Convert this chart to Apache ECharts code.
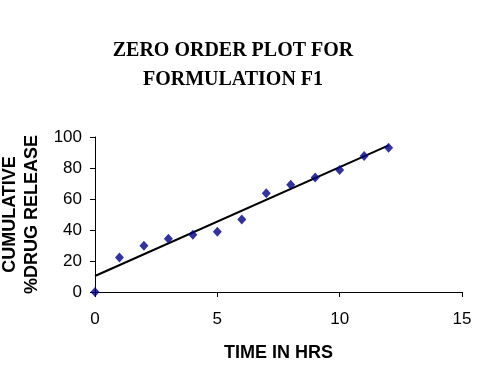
<!DOCTYPE html>
<html>
<head>
<meta charset="utf-8">
<script src="https://cdn.jsdelivr.net/npm/echarts@6/dist/echarts.min.js"></script>
<style>html,body{margin:0;padding:0;background:#fff;}#c{width:485px;height:366px;}</style>
</head>
<body>
<div id="c"></div>
<script>
const timeHrs = [0, 1, 2, 3, 4, 5, 6, 7, 8, 9, 10, 11, 12];
const drugRelease = [0, 22.2, 29.9, 34.4, 37.0, 38.9, 46.7, 63.7, 69.2, 73.8, 78.7, 87.7, 93.1];
const trendX = [0, 12];
const trendY = [10.3, 94.6];
const xTicks = [0, 5, 10, 15];
const yTicks = [0, 20, 40, 60, 80, 100];

const chart = echarts.init(document.getElementById('c'), null, {renderer: 'canvas'});
chart.setOption({
  animation: false,
  backgroundColor: '#ffffff',
  title: {
    text: 'ZERO ORDER PLOT FOR\nFORMULATION F1',
    left: 233, top: 36, padding: 0,
    textAlign: 'center',
    textStyle: {fontFamily: 'Liberation Serif', fontWeight: 'bold', fontSize: 20, lineHeight: 29, color: '#000'}
  },
  grid: {left: 95, right: 23, top: 137, bottom: 74, containLabel: false, outerBoundsMode: 'none'},
  xAxis: {
    type: 'value', min: xTicks[0], max: xTicks[xTicks.length - 1], interval: 5,
    name: 'TIME IN HRS', nameLocation: 'middle', nameGap: 52,
    nameTextStyle: {fontFamily: 'Liberation Sans', fontWeight: 'bold', fontSize: 18, color: '#000'},
    axisLine: {show: true, onZero: false, lineStyle: {color: '#000', width: 1}},
    axisTick: {show: true, inside: false, length: 5, lineStyle: {color: '#000'}},
    axisLabel: {fontFamily: 'Liberation Sans', fontSize: 17, color: '#000', margin: 19},
    splitLine: {show: false}
  },
  yAxis: {
    type: 'value', min: yTicks[0], max: yTicks[yTicks.length - 1], interval: 20,
    name: 'CUMULATIVE\n%DRUG RELEASE', nameLocation: 'middle', nameRotate: 90, nameGap: 52,
    nameTextStyle: {fontFamily: 'Liberation Sans', fontWeight: 'bold', fontSize: 18, lineHeight: 22, color: '#000', align: 'center'},
    axisLine: {show: true, onZero: false, lineStyle: {color: '#000', width: 1}},
    axisTick: {show: true, inside: false, length: 5, lineStyle: {color: '#000'}},
    axisLabel: {fontFamily: 'Liberation Sans', fontSize: 17, color: '#000', margin: 13},
    splitLine: {show: false}
  },
  series: [
    {
      type: 'line',
      data: trendX.map((x, i) => [x, trendY[i]]),
      showSymbol: false, symbol: 'none',
      lineStyle: {color: '#000', width: 2},
      z: 2
    },
    {
      type: 'scatter',
      data: timeHrs.map((x, i) => [x, drugRelease[i]]),
      symbol: 'diamond', symbolSize: [9, 10],
      itemStyle: {color: '#000080'},
      clip: false,
      z: 3
    }
  ]
});
</script>
</body>
</html>
